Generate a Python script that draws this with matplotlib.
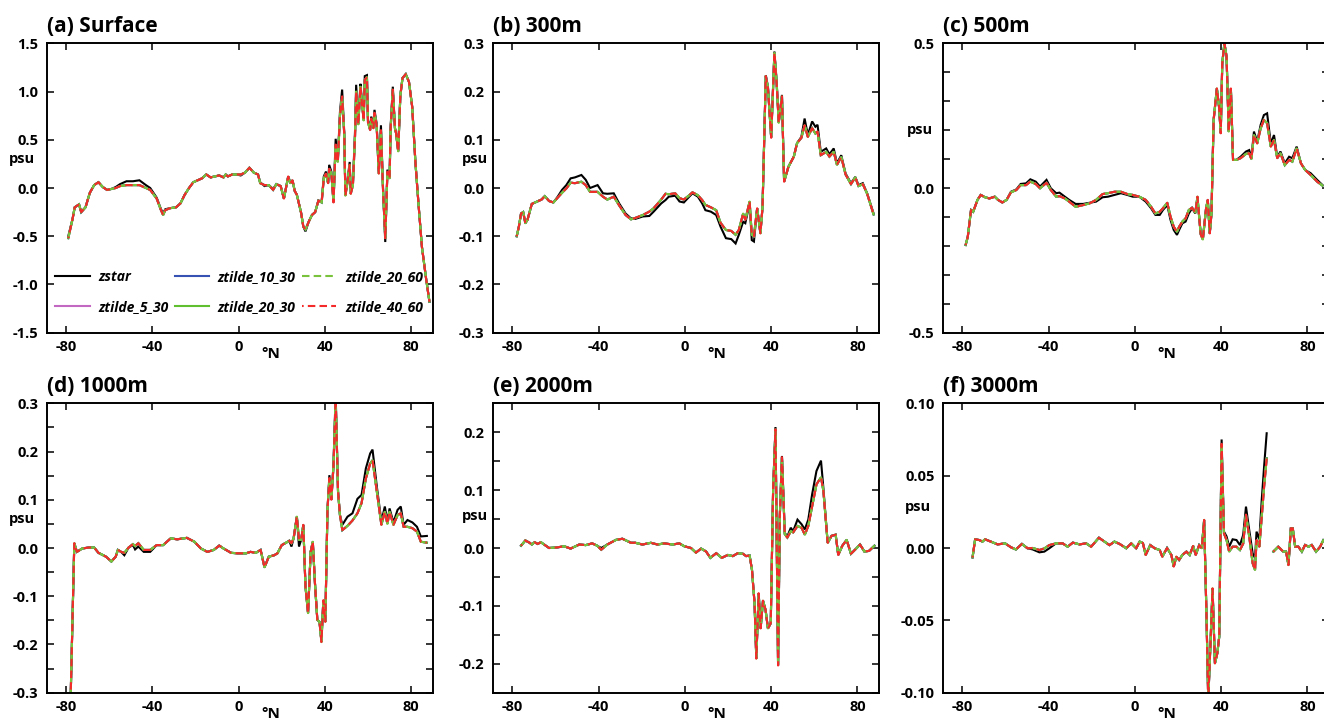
import numpy as np
import matplotlib
matplotlib.use("Agg")
import matplotlib.pyplot as plt
from matplotlib.ticker import MultipleLocator
from matplotlib.transforms import blended_transform_factory

plt.rcParams['font.family'] = ['Open Sans', 'DejaVu Sans']
plt.rcParams['axes.unicode_minus'] = False

nan = np.nan
series_names = ["zstar", "ztilde_5_30", "ztilde_10_30", "ztilde_20_30", "ztilde_20_60", "ztilde_40_60"]
panel_titles = ["(a) Surface", "(b) 300m", "(c) 500m", "(d) 1000m", "(e) 2000m", "(f) 3000m"]
xticks = [-80, -40, 0, 40, 80]

# ---------------- (a) Surface ----------------
lat_a = [-79, -77, -76, -74, -73, -71, -69, -67, -65, -63,
         -61, -59, -57, -55, -52, -49, -46, -43, -41, -38,
         -36, -35, -34, -32, -29, -27, -25, -23, -21, -19,
         -17, -15, -13, -11, -9, -7, -6, -5, -3, -1,
         1, 3, 5, 7, 9, 10, 12, 14, 16, 17.5,
         19.5, 21, 23, 24, 25, 26, 27, 29, 30, 31,
         32.5, 34, 35.5, 37, 38.5, 39.5, 40.5, 41.5, 42, 43,
         44, 45, 46, 47, 48, 49, 49.5, 50.5, 51.5, 52,
         53, 54, 54.5, 55.5, 56.5, 57, 58, 58.5, 59.5, 60,
         61, 61.5, 62.5, 63, 64, 65, 66, 67, 68, 69,
         70, 70.5, 71.5, 72.5, 73, 74, 75, 76, 77.5, 79,
         80.5, 82, 83.5, 85, 87, 88.5]
zstar_a = [-0.50, -0.32, -0.20, -0.17, -0.25, -0.20, -0.05, 0.03, 0.06, 0.01,
           -0.02, -0.01, 0.01, 0.04, 0.07, 0.07, 0.08, 0.03, 0.00, -0.10,
           -0.22, -0.26, -0.22, -0.21, -0.20, -0.16, -0.07, 0.00, 0.06, 0.08,
           0.10, 0.14, 0.11, 0.12, 0.13, 0.11, 0.14, 0.12, 0.14, 0.14,
           0.13, 0.16, 0.21, 0.16, 0.14, 0.06, 0.02, 0.03, -0.01, 0.04,
           0.02, -0.11, 0.12, 0.05, 0.08, -0.03, -0.07, -0.26, -0.40, -0.45,
           -0.35, -0.28, -0.25, -0.13, -0.14, 0.12, 0.17, 0.05, 0.24, 0.17,
           -0.13, 0.51, 0.29, 0.79, 1.02, 0.57, -0.06, 0.08, 0.27, -0.04,
           0.05, 0.60, 1.07, 0.70, 1.08, 0.95, 0.74, 1.16, 1.17, 0.70,
           0.62, 0.74, 0.64, 0.81, 0.67, 0.17, 0.65, -0.02, -0.56, 0.19,
           0.10, 0.64, 1.05, 0.62, 0.57, 0.38, 0.96, 1.14, 1.18, 1.10,
           0.84, 0.26, -0.19, -0.61, -0.95, -1.18]
ztilde_a = [-0.52, -0.32, -0.20, -0.17, -0.25, -0.20, -0.05, 0.03, 0.06, 0.01,
            -0.02, -0.01, 0.00, 0.02, 0.03, 0.03, 0.03, 0.00, -0.02, -0.11,
            -0.23, -0.28, -0.23, -0.21, -0.20, -0.16, -0.07, 0.00, 0.06, 0.08,
            0.10, 0.14, 0.11, 0.12, 0.13, 0.11, 0.14, 0.12, 0.14, 0.14,
            0.14, 0.16, 0.21, 0.16, 0.14, 0.05, 0.03, 0.03, -0.02, 0.04,
            0.02, -0.11, 0.12, 0.05, 0.08, -0.03, -0.07, -0.26, -0.40, -0.43,
            -0.35, -0.28, -0.25, -0.13, -0.15, 0.10, 0.15, 0.05, 0.20, 0.15,
            -0.15, 0.45, 0.27, 0.75, 0.95, 0.55, -0.08, 0.06, 0.24, -0.06,
            0.03, 0.55, 1.00, 0.66, 1.05, 0.92, 0.70, 1.12, 1.15, 0.68,
            0.60, 0.72, 0.62, 0.78, 0.65, 0.15, 0.60, -0.04, -0.52, 0.17,
            0.10, 0.62, 1.02, 0.62, 0.57, 0.38, 0.96, 1.14, 1.18, 1.10,
            0.84, 0.26, -0.19, -0.61, -0.95, -1.18]

# ---------------- (b) 300m ----------------
lat_b = [-78, -77, -76, -75, -74, -73, -71, -68.5, -66.5, -65,
         -63, -61, -59, -57, -55, -53, -51, -48, -46, -44,
         -40.5, -38, -36, -33, -30.5, -27.5, -25, -23, -19.5, -16.5,
         -14.5, -11, -9, -7.5, -4.5, -2.5, -0.5, 2, 3.5, 6,
         8, 9.5, 12, 14.5, 16.5, 19, 21.5, 23.5, 25, 27,
         28, 30, 31, 32, 33.5, 35, 36, 37.5, 38.5, 40,
         41.5, 42.5, 43.5, 45, 46, 48, 50.5, 52, 54, 55.5,
         57, 59, 60.5, 61.5, 63, 65.5, 67, 69, 70.5, 72.5,
         74.5, 77, 79, 80.5, 82.5, 84.5, 87.5]
zstar_b = [-0.100, -0.080, -0.053, -0.050, -0.073, -0.066, -0.033, -0.028, -0.024, -0.017,
           -0.027, -0.030, -0.018, -0.004, 0.006, 0.020, 0.022, 0.027, 0.017, 0.000,
           0.006, -0.011, -0.012, -0.011, -0.032, -0.053, -0.063, -0.064, -0.059, -0.058,
           -0.049, -0.032, -0.025, -0.018, -0.016, -0.028, -0.030, -0.018, -0.011, -0.018,
           -0.032, -0.046, -0.049, -0.056, -0.080, -0.104, -0.106, -0.115, -0.097, -0.070,
           -0.073, -0.032, -0.108, -0.111, -0.042, -0.094, -0.039, 0.234, 0.210, 0.106,
           0.283, 0.224, 0.138, 0.193, 0.013, 0.044, 0.065, 0.093, 0.106, 0.144,
           0.110, 0.138, 0.127, 0.131, 0.075, 0.082, 0.070, 0.082, 0.051, 0.068,
           0.030, 0.010, 0.023, 0.006, 0.010, -0.011, -0.053]
ztilde_b = [-0.100, -0.080, -0.053, -0.050, -0.073, -0.066, -0.033, -0.028, -0.024, -0.017,
            -0.027, -0.030, -0.020, -0.010, -0.001, 0.011, 0.010, 0.013, 0.006, -0.008,
            -0.008, -0.018, -0.024, -0.018, -0.036, -0.056, -0.065, -0.062, -0.056, -0.049,
            -0.042, -0.024, -0.012, -0.013, -0.011, -0.021, -0.024, -0.015, -0.009, -0.015,
            -0.025, -0.035, -0.040, -0.046, -0.072, -0.087, -0.089, -0.097, -0.087, -0.053,
            -0.066, -0.028, -0.097, -0.100, -0.042, -0.094, -0.039, 0.232, 0.208, 0.104,
            0.280, 0.220, 0.135, 0.190, 0.013, 0.044, 0.065, 0.093, 0.104, 0.130,
            0.106, 0.124, 0.113, 0.117, 0.068, 0.075, 0.065, 0.075, 0.048, 0.064,
            0.028, 0.008, 0.022, 0.004, 0.008, -0.012, -0.055]

# ---------------- (c) 500m ----------------
lat_c = [-78.5, -77.5, -76, -75, -73, -71.5, -69.5, -67.5, -65, -63.5,
         -61.5, -59.5, -57.5, -55, -53, -50.5, -48.5, -46, -44, -41,
         -39, -36.5, -35, -32.5, -30.5, -27.5, -24, -21, -18, -15,
         -12.5, -9.5, -6.5, -3.5, -1, 2, 5, 7.5, 9.5, 11.5,
         13, 15, 16.5, 18, 19.5, 20.5, 22, 23.5, 25, 26.5,
         28, 29, 30.5, 31.5, 33, 33.8, 34.7, 35.5, 36.5, 38,
         39, 39.8, 40.5, 41.5, 42.5, 43.5, 44.5, 45.5, 47, 49,
         51.5, 53, 54, 55.2, 56.7, 58.3, 59.8, 61.3, 63, 64.5,
         66, 67.5, 69.5, 71.5, 73, 75, 77, 79, 81.5, 84.5, 87]
zstar_c = [-0.197, -0.168, -0.076, -0.082, -0.041, -0.024, -0.032, -0.036, -0.030, -0.041,
           -0.050, -0.041, -0.013, -0.005, 0.014, 0.016, 0.030, 0.022, 0.005, 0.028,
           -0.001, -0.018, -0.016, -0.030, -0.041, -0.055, -0.055, -0.051, -0.047, -0.032,
           -0.030, -0.024, -0.018, -0.024, -0.030, -0.030, -0.047, -0.070, -0.093, -0.093,
           -0.076, -0.059, -0.110, -0.145, -0.162, -0.145, -0.122, -0.116, -0.088, -0.070,
           -0.088, -0.036, -0.157, -0.174, -0.070, -0.041, -0.157, -0.088, 0.235, 0.344,
           0.281, 0.189, 0.431, 0.500, 0.454, 0.195, 0.344, 0.097, 0.097, 0.108,
           0.126, 0.131, 0.103, 0.195, 0.160, 0.218, 0.252, 0.258, 0.154, 0.183,
           0.108, 0.126, 0.085, 0.108, 0.103, 0.143, 0.085, 0.062, 0.051, 0.028, 0.010]
ztilde_c = [-0.197, -0.168, -0.076, -0.082, -0.041, -0.024, -0.032, -0.036, -0.030, -0.041,
            -0.050, -0.041, -0.015, -0.007, 0.010, 0.010, 0.022, 0.014, -0.001, 0.018,
            -0.007, -0.030, -0.028, -0.036, -0.047, -0.065, -0.059, -0.053, -0.041, -0.021,
            -0.018, -0.013, -0.013, -0.021, -0.024, -0.030, -0.041, -0.065, -0.088, -0.082,
            -0.070, -0.051, -0.099, -0.134, -0.151, -0.134, -0.116, -0.105, -0.076, -0.068,
            -0.085, -0.030, -0.160, -0.178, -0.070, -0.041, -0.157, -0.088, 0.235, 0.344,
            0.281, 0.189, 0.431, 0.500, 0.454, 0.195, 0.344, 0.097, 0.097, 0.103,
            0.118, 0.120, 0.100, 0.183, 0.154, 0.206, 0.235, 0.224, 0.143, 0.166,
            0.103, 0.120, 0.079, 0.097, 0.091, 0.137, 0.085, 0.062, 0.045, 0.022, 0.008]

# ---------------- (d) 1000m ----------------
lat_d = [-78, -76.2, -75, -72.5, -69.5, -67, -65, -61.5, -59, -57,
         -56, -54.5, -53, -51, -49, -48, -46.5, -44, -41, -38,
         -35, -31.5, -28.5, -24, -20.5, -17.5, -14.5, -11.5, -9, -7,
         -3.5, -0.5, 3.5, 5.5, 8, 10.2, 12, 14, 16.5, 18,
         20, 22, 23.5, 24.5, 25.5, 27, 28, 29, 30, 31,
         32.2, 33.4, 34.4, 35.4, 36.5, 37.5, 38.4, 39.3, 40.2, 41.2,
         42.1, 43, 44, 45, 46.1, 47, 48.1, 50.5, 52.8, 55.1,
         57, 59, 61, 62.1, 64.1, 66.2, 67.8, 69, 70, 71.8,
         73.7, 75.2, 76.5, 78.3, 80.6, 82.7, 84.5, 87.3]
zstar_d = [-0.330, 0.010, -0.008, -0.001, 0.001, 0.001, -0.010, -0.018, -0.028, -0.018,
           -0.004, -0.008, -0.015, 0.001, 0.006, -0.003, 0.003, -0.008, -0.008, 0.006,
           0.006, 0.020, 0.018, 0.021, 0.013, -0.001, -0.008, -0.004, 0.005, -0.001,
           -0.010, -0.011, -0.011, -0.008, -0.010, -0.004, -0.040, -0.018, -0.015, -0.011,
           0.006, 0.011, 0.015, 0.003, 0.020, 0.065, 0.003, 0.017, 0.048, -0.080,
           -0.135, -0.008, 0.013, -0.073, -0.149, -0.153, -0.190, -0.108, -0.153, 0.079,
           0.151, 0.100, 0.175, 0.320, 0.117, 0.068, 0.048, 0.065, 0.072, 0.102,
           0.110, 0.165, 0.196, 0.204, 0.127, 0.055, 0.086, 0.055, 0.082, 0.053,
           0.079, 0.086, 0.048, 0.058, 0.053, 0.044, 0.024, 0.025]
ztilde_d = [-0.330, 0.010, -0.008, -0.001, 0.001, 0.001, -0.010, -0.018, -0.028, -0.018,
            -0.004, -0.008, -0.010, 0.001, 0.008, 0.004, 0.010, -0.004, -0.004, 0.006,
            0.006, 0.020, 0.018, 0.021, 0.013, -0.001, -0.008, -0.004, 0.005, -0.001,
            -0.010, -0.011, -0.011, -0.008, -0.010, -0.004, -0.040, -0.018, -0.015, -0.011,
            0.006, 0.011, 0.015, 0.010, 0.020, 0.065, 0.017, 0.017, 0.048, -0.080,
            -0.135, -0.008, 0.013, -0.073, -0.149, -0.153, -0.195, -0.108, -0.153, 0.079,
            0.145, 0.100, 0.170, 0.310, 0.117, 0.068, 0.037, 0.046, 0.057, 0.072,
            0.093, 0.144, 0.175, 0.182, 0.117, 0.048, 0.075, 0.050, 0.075, 0.048,
            0.068, 0.072, 0.044, 0.044, 0.041, 0.034, 0.013, 0.011]

# ---------------- (e) 2000m ----------------
lat_e = [-76, -74, -72, -71, -69.7, -68.3, -66.8, -63, -59.3, -56,
         -53, -49, -46, -43, -40.7, -38.8, -36, -32, -29, -25,
         -23, -19.7, -15.8, -12.7, -9.6, -5.7, -2.6, -0.3, 2.8, 5.1,
         7.5, 9.8, 11.8, 14.5, 17.1, 19.9, 22.2, 24.5, 26.9, 28.4,
         30, 31.1, 32.3, 33.1, 34.2, 35.1, 36.2, 37.4, 38.5, 39.8,
         40.9, 42, 43.2, 44, 45, 46.3, 47.5, 49.1, 50.2, 52.2,
         54.1, 55.6, 57.2, 59, 61, 63.1, 64.2, 66.2, 68, 69.9,
         71.1, 73, 75, 77, 78.9, 81.2, 83.2, 85.4, 87.9]
zstar_e = [0.004, 0.013, 0.009, 0.006, 0.010, 0.007, 0.010, 0.000, 0.001, 0.003,
           -0.001, 0.006, 0.005, 0.008, 0.004, 0.000, 0.006, 0.014, 0.016, 0.009,
           0.009, 0.006, 0.009, 0.006, 0.008, 0.006, 0.008, 0.003, 0.000, -0.008,
           -0.001, -0.006, -0.017, -0.009, -0.017, -0.012, -0.014, -0.009, -0.010, -0.014,
           -0.013, -0.038, -0.096, -0.191, -0.078, -0.139, -0.091, -0.107, -0.139, -0.130,
           0.101, 0.209, -0.203, 0.055, 0.159, 0.026, 0.020, 0.035, 0.029, 0.049,
           0.041, 0.032, 0.049, 0.093, 0.133, 0.151, 0.104, 0.009, 0.021, 0.023,
           -0.012, 0.004, 0.014, -0.010, -0.003, 0.006, -0.006, -0.005, 0.004]
ztilde_e = [0.004, 0.013, 0.009, 0.006, 0.010, 0.007, 0.010, 0.000, 0.001, 0.003,
            -0.001, 0.006, 0.005, 0.008, 0.004, -0.003, 0.006, 0.014, 0.016, 0.009,
            0.009, 0.006, 0.009, 0.006, 0.008, 0.006, 0.008, 0.003, 0.000, -0.008,
            -0.001, -0.006, -0.017, -0.009, -0.017, -0.012, -0.014, -0.009, -0.010, -0.014,
            -0.013, -0.038, -0.096, -0.191, -0.078, -0.139, -0.091, -0.107, -0.139, -0.130,
            0.101, 0.205, -0.203, 0.055, 0.157, 0.024, 0.018, 0.029, 0.027, 0.038,
            0.035, 0.023, 0.038, 0.072, 0.110, 0.122, 0.099, 0.009, 0.021, 0.023,
            -0.012, 0.004, 0.014, -0.010, -0.003, 0.006, -0.006, -0.005, 0.004]

# ---------------- (f) 3000m ----------------
lat_f = [-75.3, -74.1, -72.2, -70.7, -69.5, -66.8, -63.7, -60.2, -57.5, -55.2,
         -52.4, -49.8, -47.4, -44.3, -42, -39.7, -36.6, -33.5, -31.2, -28.8,
         -25.7, -22.6, -20.3, -16.7, -14.1, -11.8, -9.5, -7.1, -4, -1.7,
         0.6, 2.2, 3.7, 5, 7.1, 9.2, 11.5, 12.7, 14.9, 16.9,
         18, 19.2, 20.5, 22, 23.9, 25.4, 27, 28.2, 29.8, 31,
         32.1, 33.2, 34, 35.1, 36, 37.1, 38.2, 39.1, 40.2, 41.3,
         42.5, 43.7, 45.3, 47.1, 48.7, 50.2, 51.5, 53, 54.6, 55.7,
         56.4, 57.7, 58.8, 59.9, 61.1, 62.5, 64.2, 66.5, 68.8, 70.1,
         71.2, 72.3, 73.2, 74.3, 75.8, 77.4, 78.9, 80.5, 82, 84, 85.9, 87.4]
zstar_f = [-0.0065, 0.0060, 0.0055, 0.0044, 0.0060, 0.0044, 0.0025, 0.0032, 0.0005, -0.0010,
           0.0028, -0.0002, -0.0010, -0.0030, -0.0025, -0.0002, 0.0032, 0.0032, 0.0009, 0.0037,
           0.0025, 0.0032, 0.0009, 0.0071, 0.0044, 0.0020, 0.0044, 0.0028, -0.0002, 0.0032,
           -0.0002, 0.0044, 0.0034, -0.0048, 0.0020, -0.0002, -0.0014, -0.0060, 0.0000, -0.0048,
           -0.0129, -0.0060, -0.0083, -0.0048, -0.0025, -0.0048, 0.0014, -0.0048, 0.0020, -0.0002,
           0.0194, -0.0474, -0.1050, -0.0636, -0.0279, -0.0797, -0.0728, -0.0613, 0.0750, 0.0113,
           0.0080, 0.0009, 0.0060, 0.0055, 0.0020, 0.0090, 0.0286, 0.0125, -0.0037, -0.0070,
           0.0113, 0.0060, 0.0332, 0.0562, 0.0793, nan, -0.0025, 0.0009, -0.0025, -0.0025,
           -0.0118, 0.0136, 0.0136, 0.0009, 0.0009, -0.0025, 0.0021, 0.0009, 0.0021, -0.0025, 0.0009, 0.0055]
ztilde_f = [-0.0065, 0.0060, 0.0055, 0.0044, 0.0060, 0.0044, 0.0025, 0.0032, 0.0005, -0.0010,
            0.0028, -0.0002, 0.0000, -0.0014, -0.0003, 0.0020, 0.0032, 0.0032, 0.0009, 0.0037,
            0.0025, 0.0032, 0.0009, 0.0071, 0.0044, 0.0020, 0.0044, 0.0028, -0.0002, 0.0032,
            -0.0002, 0.0044, 0.0034, -0.0048, 0.0020, -0.0002, -0.0014, -0.0060, 0.0000, -0.0048,
            -0.0129, -0.0060, -0.0083, -0.0048, -0.0025, -0.0048, 0.0014, -0.0048, 0.0020, -0.0002,
            0.0194, -0.0474, -0.1050, -0.0636, -0.0279, -0.0797, -0.0728, -0.0613, 0.0720, 0.0100,
            0.0055, -0.0025, 0.0009, 0.0009, -0.0014, 0.0030, 0.0230, 0.0080, -0.0106, -0.0152,
            0.0055, 0.0009, 0.0217, 0.0424, 0.0620, nan, -0.0025, 0.0009, -0.0025, -0.0025,
            -0.0118, 0.0136, 0.0136, 0.0009, 0.0009, -0.0025, 0.0021, 0.0009, 0.0021, -0.0025, 0.0009, 0.0055]

panels = [
    (lat_a, zstar_a, ztilde_a),
    (lat_b, zstar_b, ztilde_b),
    (lat_c, zstar_c, ztilde_c),
    (lat_d, zstar_d, ztilde_d),
    (lat_e, zstar_e, ztilde_e),
    (lat_f, zstar_f, ztilde_f),
]

ylims = [(-1.5, 1.5), (-0.3, 0.3), (-0.5, 0.5), (-0.3, 0.3), (-0.25, 0.25), (-0.10, 0.10)]
label_steps = [0.5, 0.1, 0.5, 0.1, 0.1, 0.05]
tick_steps = [0.5, 0.1, 0.1, 0.05, 0.05, 0.05]
label_fmts = ["{:.1f}", "{:.1f}", "{:.1f}", "{:.1f}", "{:.1f}", "{:.2f}"]
psu_pos = [(-0.063, 0.60), (-0.047, 0.60), (-0.06, 0.70), (-0.063, 0.60), (-0.047, 0.61), (-0.065, 0.64)]

colors = {
    "zstar": "#000000",
    "ztilde_5_30": "#c267c2",
    "ztilde_10_30": "#3653b3",
    "ztilde_20_30": "#5fbf2f",
    "ztilde_20_60": "#78c23c",
    "ztilde_40_60": "#f42a2a",
}
styles = {
    "zstar": "-",
    "ztilde_5_30": "-",
    "ztilde_10_30": "-",
    "ztilde_20_30": "-",
    "ztilde_20_60": (0, (3.6, 2.0)),
    "ztilde_40_60": (2.8, (3.6, 2.0)),
}

W, H = 1324, 720
fig = plt.figure(figsize=(W / 100, H / 100), dpi=100)
col_left = [46.7, 493.0, 943.0]
row_top = [43.3, 403.3]
aw, ah = 386.0, 289.4

tick_font = dict(family=['Open Sans', 'DejaVu Sans'], weight='bold', size=10.5)

for i, (lat, zs, zt) in enumerate(panels):
    r, c = divmod(i, 3)
    x0 = col_left[c]
    y0 = row_top[r]
    ax = fig.add_axes([x0 / W, 1 - (y0 + ah) / H, aw / W, ah / H])
    for name in series_names:
        vals = zs if name == "zstar" else zt
        ax.plot(lat, vals, color=colors[name], linestyle=styles[name], lw=1.5,
                label=name, solid_joinstyle='miter', dash_capstyle='butt')
    ax.set_xlim(-89, 90)
    ax.set_ylim(*ylims[i])
    ax.set_xticks(xticks)
    ax.set_xticklabels([str(v) for v in xticks], fontdict=tick_font)
    lo, hi = ylims[i]
    step = label_steps[i]
    nlab = int(round((hi - lo) / step))
    start = np.ceil(lo / step - 1e-9) * step
    labticks = [round(start + k * step, 4) for k in range(nlab + 1) if start + k * step <= hi + 1e-9]
    ax.set_yticks(labticks)
    ax.set_yticklabels([label_fmts[i].format(v) for v in labticks], fontdict=tick_font)
    if tick_steps[i] != label_steps[i]:
        ax.yaxis.set_minor_locator(MultipleLocator(tick_steps[i]))
    ax.tick_params(which='both', direction='in', top=True, right=True, length=5, width=1.1)
    ax.tick_params(axis='y', which='major', pad=6)
    ax.tick_params(axis='x', which='major', pad=5)
    for sp in ax.spines.values():
        sp.set_linewidth(1.4)
    ax.set_title(panel_titles[i], loc='left', fontsize=15, fontweight='bold', pad=8)
    ax.text(psu_pos[i][0], psu_pos[i][1], "psu", transform=ax.transAxes,
            ha='center', va='center', fontsize=10.5, fontweight='bold')
    trans = blended_transform_factory(ax.transData, ax.transAxes)
    ax.text(15, -0.072, "°N", transform=trans, ha='center', va='center',
            fontsize=11, fontweight='bold')
    if i == 0:
        ax.legend(ncol=3, loc='lower left', bbox_to_anchor=(0.0, 0.035),
                  frameon=False, handlelength=2.5, handletextpad=0.6,
                  columnspacing=0.45, labelspacing=1.15, borderaxespad=0.2,
                  prop=dict(family=['Open Sans', 'DejaVu Sans'], style='italic',
                            weight='bold', size=10))

fig.savefig("out.png", dpi=100)
